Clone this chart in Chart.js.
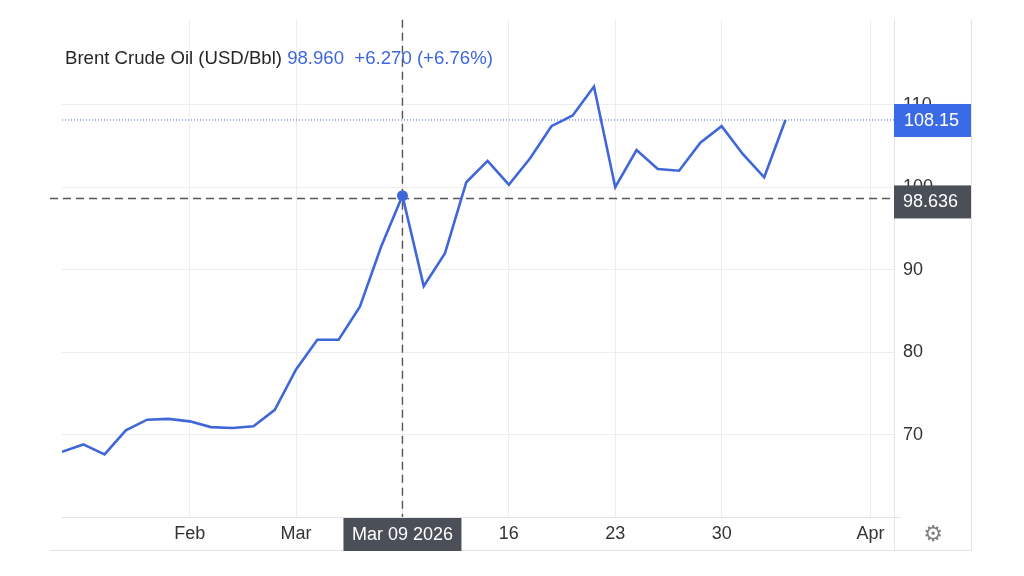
<!DOCTYPE html>
<html><head><meta charset="utf-8">
<script src="https://cdn.jsdelivr.net/npm/chart.js@4"></script>
<style>html,body{margin:0;padding:0;background:#fff}canvas{display:block}</style>
</head><body>
<canvas id="c" width="1024" height="576"></canvas>
<script>
// ---- data ----
const prices = [67.9, 68.8, 67.6, 70.5, 71.8, 71.9, 71.6, 70.9, 70.8, 71.0,
  73.0, 77.9, 81.5, 81.5, 85.5, 92.8, 98.96, 88.0, 92.0, 100.6,
  103.2, 100.3, 103.5, 107.4, 108.7, 112.2, 100.0, 104.5, 102.2, 102.0,
  105.4, 107.4, 104.0, 101.2, 108.15];
const tickIndices = [6, 11, 16, 21, 26, 31, 38];
const tickLabels = ["Feb", "Mar", "", "16", "23", "30", "Apr"];
const yTicks = [70, 80, 90, 100, 110];
const seriesName = "Brent Crude Oil (USD/Bbl)";
const headerValue = "98.960";
const headerChange = "+6.270 (+6.76%)";
const crosshairIndex = 16;
const crosshairDate = "Mar 09 2026";
const crosshairValue = 98.636;
const lastValue = 108.15;

const BLUE = "#3f67d9";
const FONT = "'Liberation Sans', Arial, sans-serif";
Chart.defaults.font.family = FONT;
Chart.defaults.font.size = 18;
Chart.defaults.color = "#333";

const points = prices.map((v, i) => ({x: i, y: v}));

const overlay = {
  id: 'overlay',
  beforeDatasetsDraw(chart) {
    const {ctx, chartArea: a, scales: {x, y}} = chart;
    ctx.save();
    // blue dotted last-value line
    const yl = y.getPixelForValue(lastValue);
    ctx.strokeStyle = BLUE; ctx.lineWidth = 1; ctx.setLineDash([1, 2]);
    ctx.beginPath(); ctx.moveTo(a.left, yl); ctx.lineTo(a.right, yl); ctx.stroke();
    // crosshair
    ctx.strokeStyle = "#555"; ctx.lineWidth = 1.4; ctx.setLineDash([8, 5]);
    const cx = x.getPixelForValue(crosshairIndex);
    ctx.beginPath(); ctx.moveTo(cx, a.top); ctx.lineTo(cx, a.bottom); ctx.stroke();
    const cy = y.getPixelForValue(crosshairValue);
    ctx.beginPath(); ctx.moveTo(50, cy); ctx.lineTo(a.right, cy); ctx.stroke();
    ctx.restore();
  },
  afterDraw(chart) {
    const {ctx, chartArea: a, scales: {x, y}} = chart;
    ctx.save();
    ctx.setLineDash([]);
    // frame
    ctx.strokeStyle = "#e4e4e4"; ctx.lineWidth = 1;
    ctx.beginPath();
    ctx.moveTo(a.left, a.bottom + 0.5); ctx.lineTo(a.right + 6, a.bottom + 0.5);
    ctx.moveTo(50, 550.5); ctx.lineTo(972, 550.5);
    ctx.moveTo(a.right + 0.5, a.top); ctx.lineTo(a.right + 0.5, 550);
    ctx.moveTo(971.5, a.top); ctx.lineTo(971.5, 550);
    ctx.stroke();
    // title
    ctx.font = "18.6px " + FONT; ctx.textBaseline = "middle"; ctx.textAlign = "left";
    let tx = 65; const ty = 59;
    ctx.fillStyle = "#262626"; ctx.fillText(seriesName, tx, ty);
    tx += ctx.measureText(seriesName + " ").width;
    ctx.fillStyle = BLUE; ctx.fillText(headerValue, tx, ty);
    tx += ctx.measureText(headerValue + "  ").width;
    ctx.fillText(headerChange, tx, ty);
    // last value box
    ctx.font = "18px " + FONT;
    const yl = y.getPixelForValue(lastValue);
    ctx.fillStyle = "#3b6ae6";
    ctx.fillRect(a.right, yl - 16, 77, 33);
    ctx.fillStyle = "#fff"; ctx.fillText(lastValue.toFixed(2), a.right + 10, yl + 1);
    // crosshair value box
    const cy = y.getPixelForValue(crosshairValue);
    ctx.fillStyle = "#4b4f58";
    ctx.fillRect(a.right, cy - 13, 77, 33);
    ctx.fillStyle = "#fff"; ctx.fillText(crosshairValue.toFixed(3), a.right + 9, cy + 4);
    // crosshair date box
    const cx = x.getPixelForValue(crosshairIndex);
    ctx.fillStyle = "#4b4f58";
    ctx.fillRect(cx - 59, a.bottom + 1, 118, 33);
    ctx.fillStyle = "#fff"; ctx.textAlign = "center";
    ctx.fillText(crosshairDate, cx, a.bottom + 18);
    // gear
    ctx.fillStyle = "#808080"; ctx.font = "22px 'DejaVu Sans'";
    ctx.fillText("\u2699", 933, 535);
    ctx.restore();
  }
};

new Chart(document.getElementById('c'), {
  type: 'line',
  data: {
    datasets: [{
      data: points,
      borderColor: BLUE,
      backgroundColor: BLUE,
      borderWidth: 2.6,
      tension: 0,
      pointRadius: ctx => ctx.dataIndex === crosshairIndex ? 5.5 : 0,
      pointBorderWidth: 0,
      pointBackgroundColor: BLUE
    }]
  },
  options: {
    responsive: false,
    animation: false,
    events: [],
    layout: {padding: {left: 62, top: 17, right: 52, bottom: 26}},
    plugins: {legend: {display: false}, tooltip: {enabled: false}, title: {display: false}},
    scales: {
      x: {
        type: 'linear', min: 0, max: 39.1,
        afterBuildTicks: s => { s.ticks = tickIndices.map(v => ({value: v})); },
        afterFit: s => { s.height = 33; },
        ticks: {
          autoSkip: false, maxRotation: 0, padding: 6, color: "#333",
          callback: v => { const k = tickIndices.indexOf(v); return k >= 0 ? tickLabels[k] : ''; }
        },
        grid: {color: "#ededed", drawTicks: false},
        border: {display: false}
      },
      y: {
        position: 'right', min: 60, max: 120.3,
        afterBuildTicks: s => { s.ticks = yTicks.map(v => ({value: v})); },
        afterFit: s => { s.width = 78; },
        ticks: {padding: 9, color: "#333", callback: v => String(v)},
        grid: {color: "#ededed", drawTicks: false},
        border: {display: false}
      }
    }
  },
  plugins: [overlay]
});
</script>
</body></html>
